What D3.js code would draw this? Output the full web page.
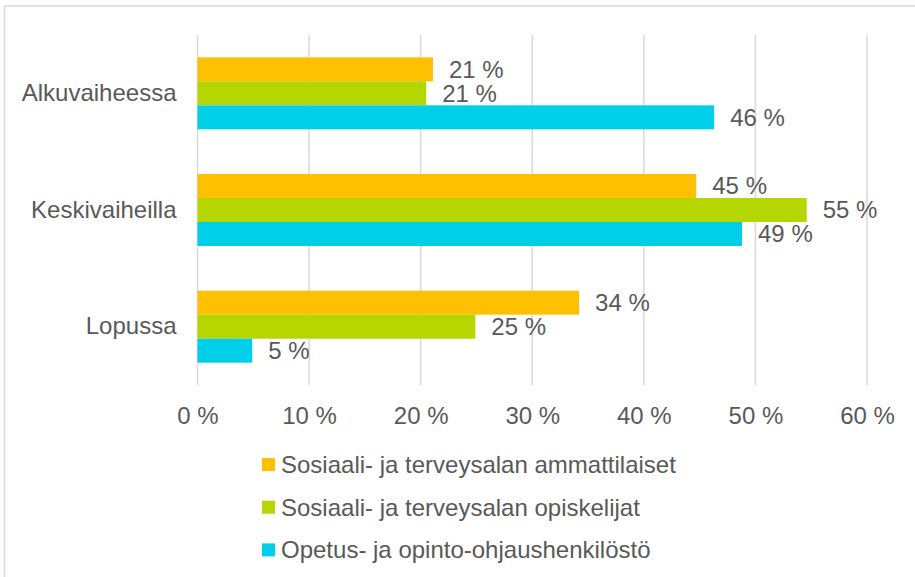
<!DOCTYPE html>
<html lang="fi">
<head>
  <meta charset="UTF-8">
  <title></title>
  <style>
    body { margin: 0; background: #fff; }
  </style>
</head>
<body>
  <script src="https://d3js.org/d3.v7.min.js"></script>
  <script>
    const categories = ["Alkuvaiheessa", "Keskivaiheilla", "Lopussa"];
    const seriesNames = [
      "Sosiaali- ja terveysalan ammattilaiset",
      "Sosiaali- ja terveysalan opiskelijat",
      "Opetus- ja opinto-ohjaushenkilöstö"
    ];
    const ammattilaiset = [21.1, 44.7, 34.2];
    const opiskelijat = [20.5, 54.6, 24.9];
    const opetus = [46.3, 48.8, 4.9];
    const xTicks = [0, 10, 20, 30, 40, 50, 60];
    const colors = ["#ffc000", "#b5d600", "#00cfea"];

    const [width, height] = [915, 577];
    const margin = { top: 35, right: 48, bottom: 192, left: 197.5 };
    const textColor = "#595959";
    const fontFamily = "'Liberation Sans', Arial, sans-serif";
    const fontSize = 24;

    const seriesValues = [ammattilaiset, opiskelijat, opetus];

    const x = d3.scaleLinear()
      .domain([0, 60])
      .range([margin.left, width - margin.right]);

    const y = d3.scaleBand()
      .domain(categories)
      .range([margin.top, height - margin.bottom])
      .paddingInner(0.383)
      .paddingOuter(0.1915);

    const ySub = d3.scaleBand()
      .domain(d3.range(seriesNames.length))
      .range([0, y.bandwidth()]);

    const svg = d3.select(document.body)
      .append("svg")
      .attr("width", width)
      .attr("height", height)
      .attr("viewBox", [0, 0, width, height])
      .attr("font-family", fontFamily);

    // outer frame
    svg.append("rect")
      .attr("x", 4.5)
      .attr("y", 6)
      .attr("width", width)
      .attr("height", height)
      .attr("fill", "none")
      .attr("stroke", "#d9d9d9")
      .attr("stroke-width", 1.5);

    // gridlines
    svg.append("g")
      .selectAll("line")
      .data(xTicks)
      .join("line")
      .attr("x1", d => x(d))
      .attr("x2", d => x(d))
      .attr("y1", y.range()[0])
      .attr("y2", y.range()[1])
      .attr("stroke", "#d9d9d9")
      .attr("stroke-width", 1.5);

    // x axis tick labels
    const xAxis = g => g
      .attr("transform", `translate(0,${y.range()[1]})`)
      .call(d3.axisBottom(x).tickValues(xTicks).tickSize(0).tickPadding(22).tickFormat(d => `${d} %`))
      .call(g => g.select(".domain").remove())
      .call(g => g.selectAll("text")
        .attr("fill", textColor)
        .attr("font-size", fontSize)
        .attr("font-family", fontFamily));
    svg.append("g").call(xAxis);

    // category labels
    const yAxis = g => g
      .attr("transform", `translate(${margin.left},0)`)
      .call(d3.axisLeft(y).tickSize(0).tickPadding(21))
      .call(g => g.select(".domain").remove())
      .call(g => g.selectAll("text")
        .attr("fill", textColor)
        .attr("font-size", fontSize)
        .attr("font-family", fontFamily));
    svg.append("g").call(yAxis);

    // bars
    seriesValues.forEach((vals, si) => {
      const g = svg.append("g");
      g.selectAll("rect")
        .data(vals)
        .join("rect")
        .attr("x", x(0))
        .attr("y", (d, i) => y(categories[i]) + ySub(si))
        .attr("width", d => x(d) - x(0))
        .attr("height", ySub.bandwidth())
        .attr("fill", colors[si]);
      g.selectAll("text")
        .data(vals)
        .join("text")
        .attr("x", d => x(d) + 16)
        .attr("y", (d, i) => y(categories[i]) + ySub(si) + ySub.bandwidth() / 2)
        .attr("dy", "0.35em")
        .attr("fill", textColor)
        .attr("font-size", fontSize)
        .text(d => `${Math.round(d)} %`);
    });

    // legend
    const legend = svg.append("g")
      .selectAll("g")
      .data(seriesNames)
      .join("g")
      .attr("transform", (d, i) => `translate(262,${464.5 + i * 42.7})`);
    legend.append("rect")
      .attr("x", 0)
      .attr("y", -6.5)
      .attr("width", 13)
      .attr("height", 13)
      .attr("fill", (d, i) => colors[i]);
    legend.append("text")
      .attr("x", 19)
      .attr("dy", "0.35em")
      .attr("fill", textColor)
      .attr("font-size", fontSize)
      .text(d => d);
  </script>
</body>
</html>
